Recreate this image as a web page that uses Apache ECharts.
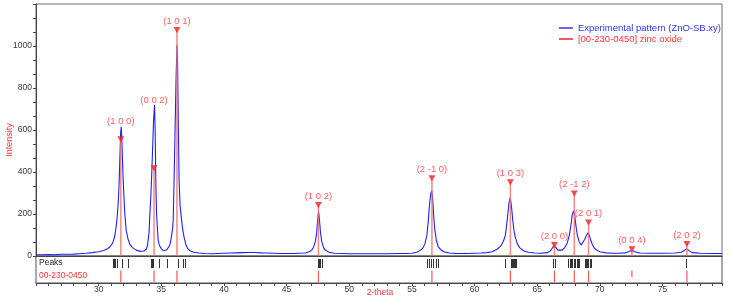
<!DOCTYPE html>
<html><head><meta charset="utf-8">
<script src="https://cdn.jsdelivr.net/npm/echarts@6/dist/echarts.min.js"></script>
<style>html,body{margin:0;padding:0;background:#fff}#c{width:732px;height:299px}</style>
</head><body><div id="c"></div>
<script>
// Experimental pattern (ZnO-SB.xy): 2-theta and intensity
const twoTheta = [25.0,25.5,26.0,26.5,27.0,27.5,28.0,28.5,29.0,29.5,30.0,30.4,30.7,30.9,31.0,31.1,31.2,31.3,31.4,31.5,31.58,31.64,31.7,31.76,31.8,31.85,31.9,31.96,32.02,32.09,32.2,32.35,32.5,32.7,33.0,33.3,33.6,33.8,33.9,33.95,34.02,34.09,34.16,34.22,34.3,34.38,34.46,34.51,34.56,34.62,34.68,34.75,34.85,35.0,35.15,35.3,35.45,35.6,35.7,35.8,35.9,35.95,36.02,36.1,36.18,36.25,36.3,36.36,36.42,36.5,36.62,36.7,36.8,36.95,37.1,37.3,37.6,38.0,38.5,39.0,39.5,40.0,40.5,41.0,41.5,42.0,42.5,43.0,43.5,44.0,44.5,45.0,45.5,46.0,46.5,46.8,47.0,47.15,47.3,47.4,47.48,47.55,47.62,47.7,47.8,47.95,48.1,48.4,48.8,49.5,50.0,51.0,52.0,53.0,54.0,54.5,55.0,55.4,55.7,55.9,56.05,56.2,56.3,56.4,56.5,56.58,56.65,56.73,56.82,56.95,57.1,57.3,57.6,58.0,58.5,59.0,59.5,60.0,60.5,61.0,61.4,61.8,62.1,62.3,62.45,62.55,62.65,62.75,62.85,62.95,63.05,63.15,63.25,63.4,63.6,63.9,64.3,64.8,65.3,65.8,66.0,66.15,66.3,66.4,66.5,66.65,66.8,67.0,67.2,67.4,67.55,67.7,67.8,67.9,68.0,68.1,68.2,68.35,68.5,68.65,68.8,68.95,69.05,69.15,69.25,69.4,69.55,69.75,70.0,70.5,71.0,71.5,72.0,72.2,72.4,72.55,72.7,72.9,73.2,74.0,75.0,76.0,76.5,76.7,76.85,76.95,77.05,77.2,77.4,78.0,79.0,79.75];
const intensity = [6,6,7,6,8,8,9,11,13,16,20,26,34,44,50,60,76,100,140,200,270,360,480,590,615,560,460,360,280,200,120,80,55,40,28,22,24,32,50,76,110,200,280,362,500,640,719,600,362,203,140,76,50,35,25,25,30,38,55,90,130,171,362,600,850,1003,920,620,362,240,171,130,95,56,36,25,18,14,12,11,12,13,14,15,16,17,17,15,14,13,12,12,12,13,14,20,28,42,70,110,170,212,175,115,70,40,27,18,13,12,11,11,11,11,12,12,13,18,28,40,60,100,160,240,295,312,280,200,130,75,45,30,19,14,12,12,12,13,14,16,20,32,48,70,95,140,195,252,278,235,170,120,90,60,40,25,18,14,13,16,22,32,46,50,40,28,23,28,40,62,95,150,198,215,190,140,100,68,52,60,80,100,110,100,80,55,38,28,20,15,13,13,15,18,24,28,24,18,14,13,13,14,18,25,32,34,30,22,16,13,12,12];

// Reference pattern [00-230-0450] zinc oxide
const refPos = [31.77,34.42,36.25,47.54,56.60,62.86,66.38,67.96,69.10,72.56,76.95];
const refHeight = [556,418,1076,243,370,351,52,298,159,32,57];
const refHkl = ['(1 0 0)','(0 0 2)','(1 0 1)','(1 0 2)','(2 -1 0)','(1 0 3)','(2 0 0)','(2 -1 2)','(2 0 1)','(0 0 4)','(2 0 2)'];
const refRelStick = [1,1,1,1,1,1,1,1,1,0.55,1];

// Found peak positions ("Peaks" row)
const peakPos = [31.11,31.21,31.32,31.43,31.85,32.33,34.2,34.27,34.36,34.78,35.45,36.35,36.7,36.9,
  47.47,47.57,47.68,47.81,56.17,56.35,56.51,56.7,56.89,57.07,
  62.47,62.88,62.96,63.04,63.12,63.2,63.28,66.27,66.4,
  67.45,67.6,67.7,67.8,67.9,67.97,68.05,68.15,68.25,68.35,
  68.78,68.88,68.98,69.08,69.18,69.26,76.85];

const xMin = 25, xMax = 79.75;
const yTickLabels = [0,200,400,600,800,1000];

// label anchor: above both the reference triangle and the measured peak top (derived from the data)
const labelAnchor = refPos.map((p,i) => {
  let m = 0;
  twoTheta.forEach((t,j) => { if (Math.abs(t - p) <= 0.3) m = Math.max(m, intensity[j]); });
  return Math.max(refHeight[i] + 43, m + 24);
});

const FONT = 'Liberation Sans, Arial, sans-serif';
const RED = '#ff3333';
const chart = echarts.init(document.getElementById('c'), null, {renderer:'canvas'});

function stickMain(params, api){
  const x = api.value(0), h = api.value(1);
  const p0 = api.coord([x,0]), p1 = api.coord([x,h]);
  return {type:'line', shape:{x1:p0[0],y1:p0[1],x2:p1[0],y2:p1[1]}, style:{stroke:'#f27272', lineWidth:1.5, opacity:0.85}};
}
function peakRow(params, api){
  const x = api.value(0);
  const p0 = api.coord([x,0.556]), p1 = api.coord([x,0.89]);
  return {type:'line', shape:{x1:Math.round(p0[0])+0.5,y1:p0[1],x2:Math.round(p1[0])+0.5,y2:p1[1]}, style:{stroke:'#333', lineWidth:1}};
}
function refRow(params, api){
  const x = api.value(0), l = api.value(1);
  const top = 0.46;
  const p0 = api.coord([x,top]), p1 = api.coord([x,top - 0.43*l]);
  return {type:'line', shape:{x1:p0[0],y1:p0[1],x2:p1[0],y2:p1[1]}, style:{stroke:'#ff5555', lineWidth:1.2}};
}

const option = {
  animation:false,
  textStyle:{fontFamily:FONT},
  grid:[
    {left:36, top:4, width:686, height:252, show:true, borderColor:'#6a6a6a', borderWidth:1, containLabel:false, outerBoundsMode:'none'},
    {left:36, top:256, width:686, height:27, show:true, borderColor:'#555', borderWidth:1, containLabel:false, outerBoundsMode:'none'}
  ],
  legend:{
    right:11, top:23, orient:'vertical', align:'left', itemGap:1, itemWidth:14, itemHeight:2, padding:0,
    textStyle:{fontSize:9.5, fontFamily:FONT},
    data:[
      {name:'Experimental pattern (ZnO-SB.xy)', icon:'rect', itemStyle:{color:'#6666ff'}, textStyle:{color:'#3333ff'}},
      {name:'[00-230-0450] zinc oxide', icon:'rect', itemStyle:{color:'#ff5555'}, textStyle:{color:RED}}
    ]
  },
  xAxis:[
    {type:'value', gridIndex:0, min:xMin, max:xMax, axisLabel:{show:false}, axisTick:{show:false}, splitLine:{show:false},
     axisLine:{show:true, lineStyle:{color:'#444'}}},
    {type:'value', gridIndex:1, min:xMin, max:xMax, interval:1, splitLine:{show:false},
     axisLine:{show:true, lineStyle:{color:'#444'}},
     axisTick:{show:true, length:3, lineStyle:{color:'#444'}},
     axisLabel:{fontSize:8.5, color:'#333', margin:2, formatter:v => (v % 5 === 0 && v > xMin ? String(v) : '')}}
  ],
  yAxis:[
    {type:'value', gridIndex:0, min:0, max:1200, interval:200, splitLine:{show:false},
     axisLine:{show:true, lineStyle:{color:'#444'}},
     axisTick:{show:true, length:3, lineStyle:{color:'#444'}},
     minorTick:{show:true, splitNumber:3, length:3, lineStyle:{color:'#444'}},
     axisLabel:{fontSize:8.5, color:'#333', margin:4, formatter:v => (yTickLabels.indexOf(v) >= 0 ? String(v) : '')}},
    {type:'value', gridIndex:1, min:0, max:1, show:false}
  ],
  graphic:[
    {type:'text', left:39, top:258, style:{text:'Peaks', fontSize:8.5, fill:'#222', fontFamily:FONT}},
    {type:'text', left:39, top:271, style:{text:'00-230-0450', fontSize:8.5, fill:RED, fontFamily:FONT}},
    {type:'text', x:10, y:140, rotation:Math.PI/2, style:{text:'Intensity', fontSize:9, fill:RED, fontFamily:FONT, align:'center', verticalAlign:'middle'}},
    {type:'text', x:380, y:293, style:{text:'2-theta', fontSize:8.5, fill:RED, fontFamily:FONT, align:'center', verticalAlign:'middle'}}
  ],
  series:[
    {name:'Experimental pattern (ZnO-SB.xy)', type:'line', xAxisIndex:0, yAxisIndex:0, showSymbol:false, z:3,
     lineStyle:{color:'#2020ff', width:1.1}, itemStyle:{color:'#2020ff'},
     data: twoTheta.map((t,i) => [t, intensity[i]])},
    {name:'[00-230-0450] zinc oxide', type:'custom', xAxisIndex:0, yAxisIndex:0, z:4, itemStyle:{color:'#ff4444'},
     renderItem: stickMain, data: refPos.map((t,i) => [t, refHeight[i]])},
    {name:'tri', type:'scatter', xAxisIndex:0, yAxisIndex:0, z:5, symbol:'triangle', symbolRotate:180, symbolSize:[7,6],
     itemStyle:{color:'#ff1a1a'}, data: refPos.map((t,i) => [t, refHeight[i]])},
    {name:'hkl', type:'scatter', xAxisIndex:0, yAxisIndex:0, z:6, symbolSize:1, itemStyle:{color:'rgba(0,0,0,0)'},
     label:{show:true, position:'inside', color:RED, fontSize:9.5, fontFamily:FONT, formatter:p => refHkl[p.dataIndex]},
     data: refPos.map((t,i) => [t, labelAnchor[i]])},
    {name:'peaks', type:'custom', xAxisIndex:1, yAxisIndex:1, renderItem: peakRow, data: peakPos.map(t => [t])},
    {name:'refrow', type:'custom', xAxisIndex:1, yAxisIndex:1, renderItem: refRow, data: refPos.map((t,i) => [t, refRelStick[i]])}
  ]
};
chart.setOption(option);
</script></body></html>
